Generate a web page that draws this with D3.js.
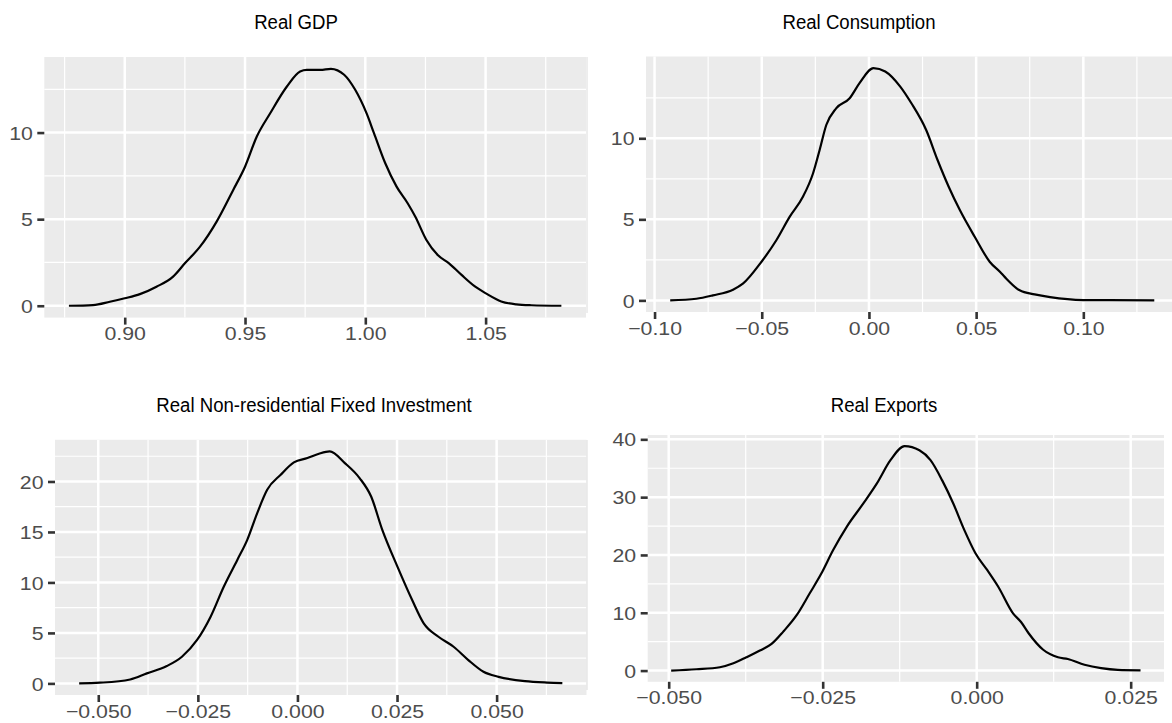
<!DOCTYPE html>
<html><head><meta charset="utf-8">
<script src="https://cdn.jsdelivr.net/npm/d3@7"></script>
<style>body{margin:0;background:#fff}svg{display:block}</style>
</head><body>
<svg id="c" width="1172" height="723"></svg>
<script>
// ---------------- DATA ----------------
const titles = ["Real GDP", "Real Consumption", "Real Non-residential Fixed Investment", "Real Exports"];

const gdpX = [0.8768,0.8868,0.8938,0.9000,0.9063,0.9132,0.9201,0.9250,0.9313,0.9382,0.9451,0.9500,0.9549,0.9604,0.9674,0.9729,0.9757,0.9813,0.9857,0.9912,0.9958,1.0005,1.0036,1.0083,1.0130,1.0176,1.0208,1.0254,1.0301,1.0348,1.0400,1.0457,1.0503,1.0565,1.0628,1.0690,1.0815];
const gdpY = [0.00,0.04,0.23,0.43,0.67,1.10,1.68,2.45,3.41,4.86,6.69,8.03,9.77,11.10,12.66,13.53,13.62,13.62,13.68,13.34,12.47,11.12,9.97,8.23,6.88,5.92,5.14,3.80,2.93,2.45,1.78,1.10,0.70,0.25,0.08,0.03,0.00];

const conX = [-0.0927,-0.0805,-0.0728,-0.0634,-0.0588,-0.0502,-0.0432,-0.0370,-0.0308,-0.0261,-0.0230,-0.0199,-0.0153,-0.0090,-0.0044,0.0021,0.0076,0.0146,0.0198,0.0267,0.0320,0.0372,0.0424,0.0494,0.0564,0.0612,0.0633,0.0703,0.0773,0.0845,0.1000,0.1120,0.1331];
const conY = [0.00,0.10,0.31,0.66,1.03,2.37,3.71,5.15,6.39,7.83,9.28,10.82,11.85,12.47,13.40,14.33,14.12,13.19,12.16,10.51,8.66,7.01,5.57,3.91,2.37,1.75,1.45,0.62,0.37,0.20,0.02,0.01,0.00];

const invX = [-0.0548,-0.0496,-0.0420,-0.0378,-0.0328,-0.0290,-0.0252,-0.0218,-0.0185,-0.0151,-0.0126,-0.0101,-0.0076,-0.0042,-0.0009,0.0025,0.0054,0.0081,0.0119,0.0156,0.0185,0.0213,0.0251,0.0288,0.0317,0.0354,0.0392,0.0429,0.0467,0.0505,0.0571,0.0627,0.0665];
const invY = [0.00,0.07,0.39,0.99,1.72,2.64,4.30,6.61,9.58,12.23,14.22,16.87,19.18,20.67,21.89,22.32,22.75,22.98,21.82,20.34,18.51,15.21,11.57,8.26,5.95,4.62,3.63,2.31,1.15,0.65,0.22,0.08,0.03];

const expX = [-0.0496,-0.0455,-0.0417,-0.0395,-0.0374,-0.0352,-0.0333,-0.0314,-0.0292,-0.0271,-0.0252,-0.0233,-0.0211,-0.0184,-0.0162,-0.0140,-0.0117,-0.0093,-0.0075,-0.0056,-0.0038,-0.0020,-0.0002,0.0017,0.0035,0.0059,0.0072,0.0084,0.0108,0.0132,0.0148,0.0175,0.0202,0.0229,0.0266];
const expY = [0.00,0.23,0.58,1.27,2.30,3.46,4.61,6.74,9.62,13.37,16.82,20.85,24.87,28.91,32.37,36.39,38.81,38.10,36.40,32.90,28.90,24.30,20.30,17.40,14.50,9.90,8.40,6.50,3.60,2.30,2.00,1.00,0.41,0.12,0.05];

const gdpXTicks = [0.90,0.95,1.00,1.05];
const gdpXLabels = ["0.90","0.95","1.00","1.05"];
const conXTicks = [-0.10,-0.05,0.00,0.05,0.10];
const conXLabels = ["\u22120.10","\u22120.05","0.00","0.05","0.10"];
const invXTicks = [-0.050,-0.025,0.000,0.025,0.050];
const invXLabels = ["\u22120.050","\u22120.025","0.000","0.025","0.050"];
const expXTicks = [-0.050,-0.025,0.000,0.025];
const expXLabels = ["\u22120.050","\u22120.025","0.000","0.025"];

const gdpYTicks = [0,5,10];
const conYTicks = [0,5,10];
const invYTicks = [0,5,10,15,20];
const expYTicks = [0,10,20,30,40];

// ---------------- LAYOUT ----------------
const layout = [
  {x0:44.3, x1:586,   y0:57,    y1:317.6, tx:296, ty:29.3},
  {x0:646,  x1:1178.5,y0:56.5,  y1:312,   tx:859, ty:29.3},
  {x0:55,   x1:586.5, y0:439.8, y1:695,   tx:314, ty:411.7},
  {x0:647.7,x1:1164,  y0:435,   y1:681.8, tx:884, ty:411.7}
];
const series = [
  {xs:gdpX, ys:gdpY, xt:gdpXTicks, xl:gdpXLabels, yt:gdpYTicks},
  {xs:conX, ys:conY, xt:conXTicks, xl:conXLabels, yt:conYTicks},
  {xs:invX, ys:invY, xt:invXTicks, xl:invXLabels, yt:invYTicks},
  {xs:expX, ys:expY, xt:expXTicks, xl:expXLabels, yt:expYTicks}
];

const svg = d3.select("#c");
const TICK_FONT = "Liberation Sans, Arial, sans-serif";
const stretch = (sel, k) => sel.each(function(){
  const w = this.getComputedTextLength();
  this.setAttribute("textLength", w*k);
  this.setAttribute("lengthAdjust", "spacingAndGlyphs");
});

function minorOf(breaks, dom){
  const step = breaks[1]-breaks[0];
  const out = [];
  for (let i=-1;i<breaks.length;i++){
    const m = breaks[0] + (i+0.5)*step;
    if (m>dom[0] && m<dom[1]) out.push(m);
  }
  return out;
}

series.forEach((s, i) => {
  const L = layout[i];
  const xe = d3.extent(s.xs), xpad = (xe[1]-xe[0])*0.05;
  const ymax = d3.max(s.ys), ypad = ymax*0.05;
  const x = d3.scaleLinear().domain([xe[0]-xpad, xe[1]+xpad]).range([L.x0, L.x1]);
  const y = d3.scaleLinear().domain([0-ypad, ymax+ypad]).range([L.y1, L.y0]);
  const g = svg.append("g");

  g.append("rect").attr("x",L.x0).attr("y",L.y0).attr("width",L.x1-L.x0).attr("height",L.y1-L.y0).attr("fill","#EBEBEB");

  const xmin = minorOf(s.xt, x.domain()), ymin = minorOf(s.yt, y.domain());
  g.selectAll(".gxm").data(xmin).join("line").attr("x1",d=>x(d)).attr("x2",d=>x(d)).attr("y1",L.y0).attr("y2",L.y1).attr("stroke","#fff").attr("stroke-width",1.2);
  g.selectAll(".gym").data(ymin).join("line").attr("y1",d=>y(d)).attr("y2",d=>y(d)).attr("x1",L.x0).attr("x2",L.x1).attr("stroke","#fff").attr("stroke-width",1.2);
  g.selectAll(".gx").data(s.xt).join("line").attr("x1",d=>x(d)).attr("x2",d=>x(d)).attr("y1",L.y0).attr("y2",L.y1).attr("stroke","#fff").attr("stroke-width",2.5);
  g.selectAll(".gy").data(s.yt).join("line").attr("y1",d=>y(d)).attr("y2",d=>y(d)).attr("x1",L.x0).attr("x2",L.x1).attr("stroke","#fff").attr("stroke-width",2.5);

  const line = d3.line().x((d,j)=>x(s.xs[j])).y(d=>y(d)).curve(d3.curveMonotoneX);
  g.append("path").datum(s.ys).attr("d", line).attr("fill","none").attr("stroke","#000").attr("stroke-width",2.2).attr("stroke-linejoin","round");

  const ax = g.append("g").attr("transform",`translate(0,${L.y1})`)
    .call(d3.axisBottom(x).tickValues(s.xt).tickFormat((d,j)=>s.xl[j]).tickSize(7).tickSizeOuter(0));
  const ay = g.append("g").attr("transform",`translate(${L.x0},0)`)
    .call(d3.axisLeft(y).tickValues(s.yt).tickFormat(d3.format("d")).tickSize(7).tickSizeOuter(0));
  [ax, ay].forEach(a => {
    a.select(".domain").remove();
    a.selectAll(".tick line").attr("stroke","#333").attr("stroke-width",2.6);
    a.selectAll(".tick text").attr("fill","#4D4D4D").attr("font-family",TICK_FONT).attr("font-size",19);
  });
  ax.selectAll(".tick text").attr("y",22.5).attr("dy",null);
  ay.selectAll(".tick text").attr("x",-11.5).attr("dy","0.35em");
  stretch(ax.selectAll(".tick text"), 1.12);
  stretch(ay.selectAll(".tick text"), 1.12);

  const t = svg.append("text").attr("x",L.tx).attr("y",L.ty).attr("text-anchor","middle")
    .attr("font-family",TICK_FONT).attr("font-size",20).attr("fill","#000").text(titles[i]);
  stretch(t, 0.93);
});

// faint separator edge seen at the left of the right-hand panels
svg.append("line").attr("x1",587).attr("x2",587).attr("y1",57).attr("y2",313).attr("stroke","#dcdcdc").attr("stroke-width",1);
svg.append("line").attr("x1",587).attr("x2",587).attr("y1",440).attr("y2",690).attr("stroke","#dcdcdc").attr("stroke-width",1);
</script>
</body></html>
